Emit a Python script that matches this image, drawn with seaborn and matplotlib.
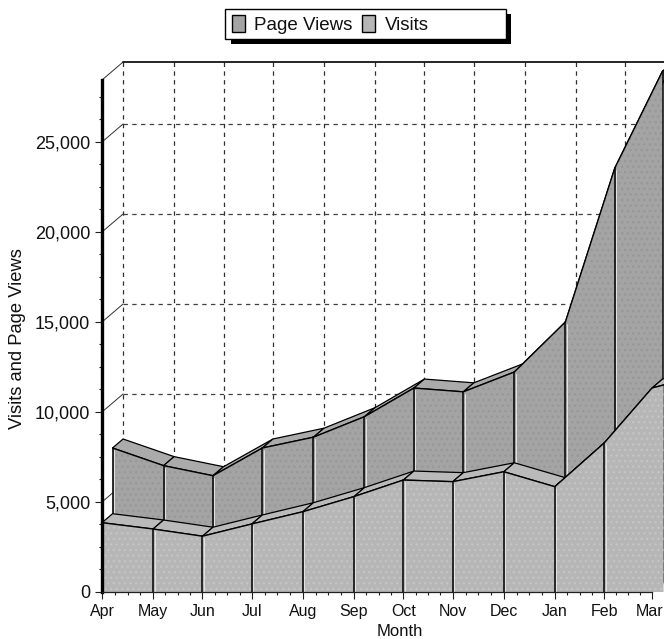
import numpy as np
import matplotlib
matplotlib.use('Agg')
import matplotlib.pyplot as plt
from matplotlib.patches import Patch, Rectangle
from matplotlib.transforms import ScaledTranslation
import seaborn as sns

months = ['Apr', 'May', 'Jun', 'Jul', 'Aug', 'Sep', 'Oct', 'Nov', 'Dec', 'Jan', 'Feb', 'Mar']
month_days = [0, 31, 61, 91, 122, 153, 183, 213, 244, 275, 305, 334]
visits = [3850, 3500, 3100, 3780, 4460, 5300, 6220, 6130, 6680, 5850, 8280, 11330]
page_views = [7500, 6520, 5960, 7500, 8100, 9240, 10830, 10620, 11720, 14500, 23050, 28440]
y_ticks = [0, 5000, 10000, 15000, 20000, 25000]
y_labels = ['0', '5,000', '10,000', '15,000', '20,000', '25,000']
tail_day = 341
tail_visits = 11500

sns.set_style('white')
plt.rcParams['font.family'] = ['Liberation Sans', 'DejaVu Sans']

days = np.array(month_days, dtype=float)
DEPTH_X = 6.4   # one series depth, in days
DEPTH_Y = 500   # one series depth, in visits
YMAX = 28444
PV_FACE, PV_TOP = '#a4a4a4', '#ababab'
V_FACE, V_TOP = '#b6b6b6', '#bababa'

fig = plt.figure(figsize=(6.64, 6.39), dpi=100)
ax = fig.add_axes([102 / 664, 47 / 639, 550 / 664, 512 / 639])
ax.set_xlim(0, 334)
ax.set_ylim(0, YMAX)
ax.patch.set_alpha(0)


def line(x, y, z, color='black', lw=0.9, ls='-'):
    sns.lineplot(x=x, y=y, ax=ax, color=color, lw=lw, ls=ls, zorder=z, clip_on=False,
                 estimator=None, sort=False, legend=False)


# back wall
dash = (0, (3.5, 3.5))
for d in days:
    line([d + 2 * DEPTH_X] * 2, [2 * DEPTH_Y, YMAX + 2 * DEPTH_Y], 1, '#303030', 0.9, dash)
for v in y_ticks[1:]:
    line([2 * DEPTH_X, 350], [v + 2 * DEPTH_Y] * 2, 1, '#404040', 0.9, dash)
    line([0, 2 * DEPTH_X], [v, v + 2 * DEPTH_Y], 1, '#303030', 0.7)
line([0, 2 * DEPTH_X], [YMAX, YMAX + 2 * DEPTH_Y], 1, '#303030', 0.7)
line([2 * DEPTH_X, 350], [YMAX + 2 * DEPTH_Y] * 2, 1, 'black', 1.2)


def draw_series(x, values, depth, face, top, dots, z, verticals):
    x = np.asarray(x, dtype=float)
    values = np.asarray(values, dtype=float)
    fx = x + depth * DEPTH_X
    fy = values + depth * DEPTH_Y
    bx = fx + DEPTH_X
    by = fy + DEPTH_Y
    # top ribbon, one quad per month
    for i in range(len(x) - 1):
        ax.fill([fx[i], fx[i + 1], bx[i + 1], bx[i]], [fy[i], fy[i + 1], by[i + 1], by[i]],
                facecolor=top, edgecolor='black', lw=0.9, zorder=z, clip_on=False)
    # front face with stipple
    ax.fill_between(fx, 0, fy, facecolor=face, edgecolor=dots, hatch='...', lw=0,
                    zorder=z + 0.1, clip_on=False)
    line(fx, fy, z + 0.2, 'black', 1.0)
    for i in verticals:
        line([fx[i]] * 2, [depth * DEPTH_Y, fy[i]], z + 0.3, 'black', 1.1)
        line([fx[i] + 0.9] * 2, [depth * DEPTH_Y, fy[i] - 120], z + 0.25, '#e4e4e4', 0.7)


draw_series(days, page_views, 1, PV_FACE, PV_TOP, '#989898', 3, range(12))
draw_series(np.append(days, tail_day), visits + [tail_visits], 0, V_FACE, V_TOP, '#c4c4c4', 4, range(1, 11))

# axes
for side in ['top', 'right']:
    ax.spines[side].set_visible(False)
ax.spines['left'].set_linewidth(2.4)
ax.spines['left'].set_color('black')
ax.spines['bottom'].set_linewidth(0.9)
ax.spines['bottom'].set_color('#202020')
for sp in ax.spines.values():
    sp.set_zorder(6)
ax.set_xticks(days)
ax.set_xticklabels(months, fontsize=11.5)
ax.set_xticks(np.interp(np.arange(0, 11, 0.25), np.arange(12), days), minor=True)
ax.set_yticks(y_ticks)
ax.set_yticklabels(y_labels, fontsize=13)
ax.set_yticks(np.arange(0, 28444, 1250), minor=True)
ax.tick_params(which='major', bottom=True, left=True, length=5, width=0.8, color='#202020', pad=3.5, labelcolor='#111111')
ax.tick_params(which='minor', bottom=True, left=True, length=2.5, width=0.8, color='#202020')
# last label sits on the edge, nudge it inside
mar = ax.get_xticklabels()[-1]
mar.set_ha('right')
mar.set_transform(mar.get_transform() + ScaledTranslation(11 / 100, 0, fig.dpi_scale_trans))
ax.set_xlabel('Month', fontsize=12, color='#111111')
ax.xaxis.set_label_coords((400 - 102) / 550, -(623.5 - 592) / 512)
ax.set_ylabel('Visits and Page Views', fontsize=13.2, color='#111111')
ax.yaxis.set_label_coords((26 - 102) / 550, (592 - 339) / 512)

# legend box with hard shadow
fig.add_artist(Rectangle((231 / 664, 1 - 44 / 639), 280 / 664, 30 / 639, transform=fig.transFigure,
                         facecolor='black', edgecolor='black', lw=0))
fig.add_artist(Rectangle((224.5 / 664, 1 - 39 / 639), 281 / 664, 30 / 639, transform=fig.transFigure,
                         facecolor='white', edgecolor='black', lw=1))
handles = [Patch(facecolor=PV_FACE, edgecolor='black', lw=1), Patch(facecolor=V_FACE, edgecolor='black', lw=1)]
leg = fig.legend(handles, ['Page Views', 'Visits'], ncol=2, loc='center left', frameon=False,
                 bbox_to_anchor=(232 / 664, 1 - 24.5 / 639), borderpad=0, borderaxespad=0,
                 handlelength=0.7, handleheight=1.0, handletextpad=0.5, columnspacing=0.5, fontsize=13.5)
for t in leg.get_texts():
    t.set_color('#111111')

fig.savefig('out.png', dpi=100)
